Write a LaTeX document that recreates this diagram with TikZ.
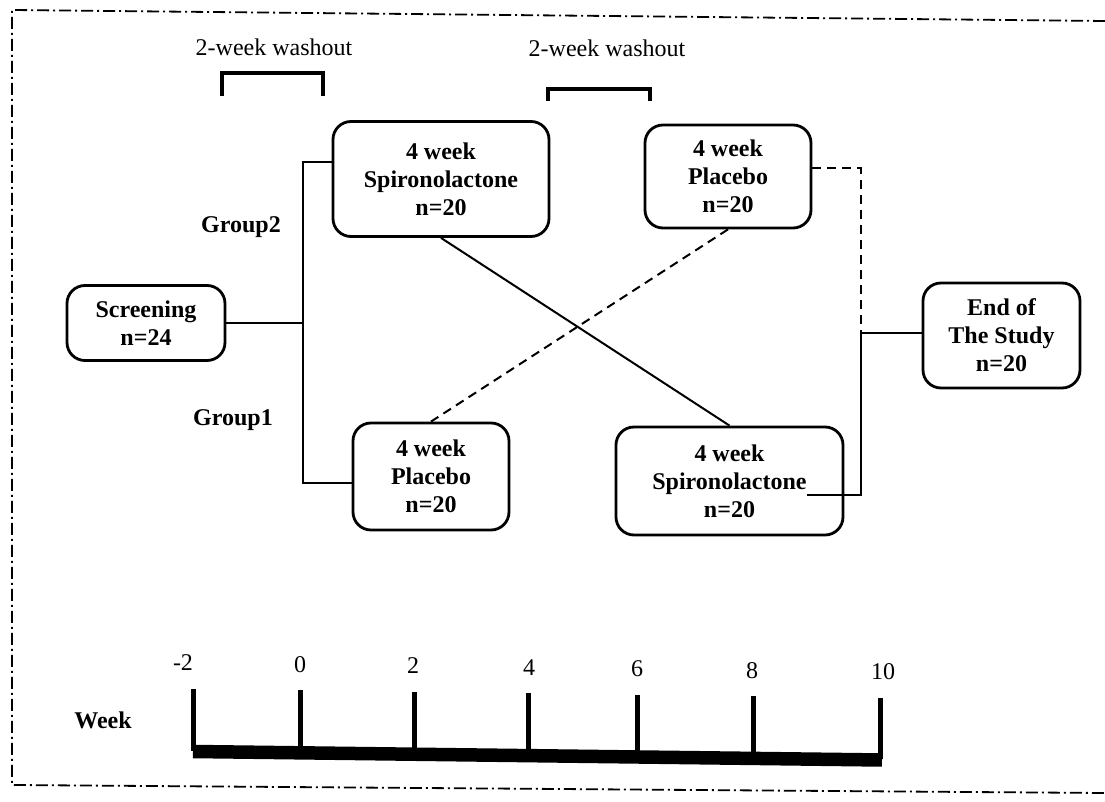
\documentclass[tikz,border=0pt]{standalone}
\usepackage{fontspec}
\setmainfont{Liberation Serif}

\begin{document}
\begin{tikzpicture}[x=0.5pt,y=-0.5pt,
  box/.style={draw,rounded corners=9pt,line width=1.4pt,align=center,inner sep=0pt,
    font=\fontsize{12}{14}\selectfont\bfseries},
  lbl/.style={font=\fontsize{12}{14}\selectfont},
  grp/.style={font=\fontsize{12}{14}\selectfont\bfseries},
  link/.style={line width=1pt},
  dlink/.style={line width=1pt,dash pattern=on 4.5pt off 3pt},
  bracket/.style={line width=2pt},
  wktick/.style={line width=2.5pt}]
\useasboundingbox (0,0) rectangle (1105,802);
% outer frame
\draw[line width=0.9pt,dash pattern=on 6pt off 2pt on 1pt off 2pt] (1105,21) -- (12,10) -- (12,785) -- (1105,793);

% washout periods
\node[lbl] (wash1) at (274,47) {2-week washout};
\node[lbl] (wash2) at (607,48) {2-week washout};
\draw[bracket] (222,96) -- (222,73) -- (323,73) -- (323,96);
\draw[bracket] (548,101) -- (548,89) -- (650,89) -- (650,101);

% boxes
\node[box,minimum width=79pt,minimum height=37.5pt] (screen) at (146,323) {Screening\\n=24};
\node[box,minimum width=108pt,minimum height=57.5pt] (spiroA) at (441,179) {4 week\\Spironolactone\\n=20};
\node[box,minimum width=83pt,minimum height=51.5pt] (placeboA) at (728,176.5) {4 week\\Placebo\\n=20};
\node[box,minimum width=78pt,minimum height=53.5pt] (placeboB) at (431,476.5) {4 week\\Placebo\\n=20};
\node[box,minimum width=113.5pt,minimum height=54pt] (spiroB) at (729.5,481) {4 week\\Spironolactone\\n=20};
\node[box,minimum width=78.5pt,minimum height=52.5pt] (endstudy) at (1001.5,335.5) {End of\\The Study\\n=20};

\node[grp] (group2) at (241,227) {Group2};
\node[grp] (group1) at (233,420) {Group1};

% connectors
\coordinate (split) at (303,323);
\coordinate (g2) at (303,162);
\coordinate (g1) at (303,483);
\coordinate (join) at (861,333);
\coordinate (spiroBtail) at (807,495);
\draw[link] (screen.east) -- (split);
\draw[link] (spiroA.west |- g2) -- (g2) -- (g1) -- (placeboB.west |- g1);
\draw[link] (spiroA.south) -- (spiroB.north);
\draw[dlink] (placeboA.south) -- (placeboB.north);
\draw[dlink] ([yshift=4pt]placeboA.east) -| (join);
\draw[link] (spiroBtail) -| (join);
\draw[link] (join) -- (endstudy.west |- join);

% time line
\node[grp] (week) at (103,720) {Week};
\draw[line width=6.75pt] (193,751.5) -- (882,760);
\foreach \wk/\px/\lx [count=\i from 0] in {-2/193/183,0/300/300,2/414/413,4/528/529,6/637/637,8/753/752,10/880/883} {
  \node[lbl] (wk\i) at (\lx,663+1.5*\i) {\wk};
  \draw[wktick] (\px,689+1.5*\i) -- (\px,751+1.4*\i);
}
\end{tikzpicture}
\end{document}
